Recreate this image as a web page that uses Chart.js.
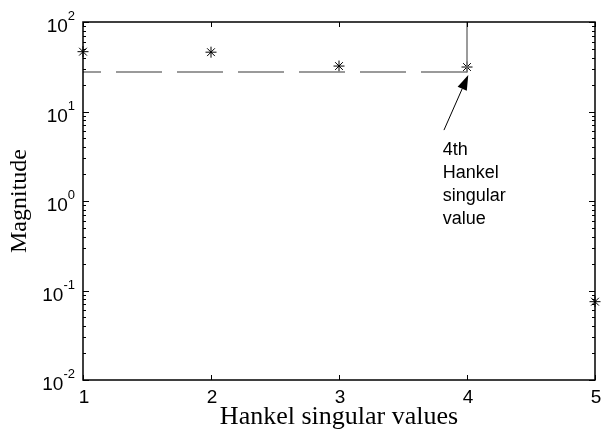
<!DOCTYPE html>
<html lang="en">

<head>
    <meta charset="UTF-8">
    <title>Hankel singular values</title>
    <script src="https://cdn.jsdelivr.net/npm/chart.js"></script>
    <style>
        html, body { margin: 0; padding: 0; background: #fff; }
        #wrap { width: 603px; height: 433px; }
    </style>
</head>

<body>
    <div id="wrap"><canvas id="hsvChart"></canvas></div>

    <script>
        // values
        const orders = [1, 2, 3, 4, 5];
        const hankelValues = [46.6, 46, 32.2, 31.4, 0.075];
        const boundLevel = 27.6;          // dashed level from order 1 to 4
        const boundTop = 100;             // vertical jump at order 4
        const yTickPowers = [2, 1, 0, -1, -2];
        const noteLines = ['4th', 'Hankel', 'singular', 'value'];
        const noteAnchor = { x: 3.81, y: 3.7 };   // first text line, in data units
        const arrowFrom = { x: 3.82, y: 6.2 };
        const arrowTo = { x: 4.01, y: 25.6 };

        const sansFont = '"Liberation Sans", Arial, sans-serif';

        // inward ticks, box, tick labels and the arrow note
        const matlabAxes = {
            id: 'matlabAxes',
            afterDraw(chart) {
                const ctx = chart.ctx;
                const a = chart.chartArea;
                const xs = chart.scales.x, ys = chart.scales.y;
                ctx.save();
                ctx.strokeStyle = '#000';
                ctx.lineWidth = 1.5;
                ctx.strokeRect(a.left, a.top, a.right - a.left, a.bottom - a.top);

                ctx.lineWidth = 1;
                ctx.beginPath();
                for (let p = -2; p <= 2; p++) {
                    for (let m = 1; m <= 9; m++) {
                        const v = m * Math.pow(10, p);
                        if (v > 100) break;
                        const py = Math.round(ys.getPixelForValue(v)) + 0.5;
                        const len = m === 1 ? 6 : 3;
                        ctx.moveTo(a.left, py); ctx.lineTo(a.left + len, py);
                        ctx.moveTo(a.right, py); ctx.lineTo(a.right - len, py);
                    }
                }
                orders.forEach(o => {
                    const px = Math.round(xs.getPixelForValue(o)) + 0.5;
                    ctx.moveTo(px, a.bottom); ctx.lineTo(px, a.bottom - 5);
                    ctx.moveTo(px, a.top); ctx.lineTo(px, a.top + 5);
                });
                ctx.stroke();

                ctx.fillStyle = '#000';
                // x tick labels
                ctx.font = '19px ' + sansFont;
                ctx.textAlign = 'center';
                ctx.textBaseline = 'alphabetic';
                orders.forEach(o => ctx.fillText(String(o), xs.getPixelForValue(o) + 1, a.bottom + 23));

                // y tick labels: 10 with superscript power
                yTickPowers.forEach(p => {
                    const py = ys.getPixelForValue(Math.pow(10, p));
                    const exp = String(p);
                    ctx.font = '13px ' + sansFont;
                    const ew = ctx.measureText(exp).width;
                    ctx.textAlign = 'right';
                    ctx.fillText(exp, a.left - 8, py - 2);
                    ctx.font = '19px ' + sansFont;
                    ctx.fillText('10', a.left - 8 - ew, py + 10);
                });

                // arrow
                const x1 = xs.getPixelForValue(arrowFrom.x), y1 = ys.getPixelForValue(arrowFrom.y);
                const x2 = xs.getPixelForValue(arrowTo.x), y2 = ys.getPixelForValue(arrowTo.y);
                const ang = Math.atan2(y2 - y1, x2 - x1);
                const hl = 15, hw = 5;
                const bx = x2 - hl * Math.cos(ang), by = y2 - hl * Math.sin(ang);
                ctx.beginPath();
                ctx.moveTo(x1, y1); ctx.lineTo(bx, by);
                ctx.stroke();
                ctx.beginPath();
                ctx.moveTo(x2, y2);
                ctx.lineTo(bx + hw * Math.sin(ang), by - hw * Math.cos(ang));
                ctx.lineTo(bx - hw * Math.sin(ang), by + hw * Math.cos(ang));
                ctx.closePath();
                ctx.fill();

                // note text
                ctx.font = '18px ' + sansFont;
                ctx.textAlign = 'left';
                ctx.textBaseline = 'middle';
                const tx = xs.getPixelForValue(noteAnchor.x);
                const ty = ys.getPixelForValue(noteAnchor.y);
                noteLines.forEach((t, i) => ctx.fillText(t, tx, ty + i * 23));
                ctx.restore();
            }
        };

        const ctx = document.getElementById('hsvChart').getContext('2d');
        new Chart(ctx, {
            type: 'scatter',
            data: {
                datasets: [{
                    label: 'bound',
                    type: 'line',
                    data: [{ x: orders[0], y: boundLevel }, { x: orders[3], y: boundLevel }],
                    borderColor: '#7a7a7a',
                    borderWidth: 1.5,
                    borderDash: [46, 15],
                    borderDashOffset: 28,
                    pointRadius: 0
                }, {
                    label: 'jump',
                    type: 'line',
                    data: [{ x: orders[3], y: boundLevel }, { x: orders[3], y: boundTop }],
                    borderColor: '#7a7a7a',
                    borderWidth: 1.5,
                    pointRadius: 0
                }, {
                    label: 'Hankel singular values',
                    data: orders.map((o, i) => ({ x: o, y: hankelValues[i] })),
                    pointStyle: 'star',
                    pointRadius: 5.5,
                    borderColor: '#000',
                    backgroundColor: '#000',
                    borderWidth: 1,
                    clip: false
                }]
            },
            options: {
                responsive: true,
                maintainAspectRatio: false,
                animation: false,
                layout: { padding: { top: 22, right: 8, left: 0, bottom: 0 } },
                plugins: { legend: { display: false }, tooltip: { enabled: false } },
                scales: {
                    x: {
                        type: 'linear',
                        min: 1, max: 5,
                        grid: { display: false, drawTicks: false },
                        border: { display: false },
                        ticks: { display: false },
                        title: {
                            display: true,
                            text: 'Hankel singular values',
                            color: '#000',
                            padding: 0,
                            font: { family: '"Liberation Serif", "Times New Roman", serif', size: 26 }
                        },
                        afterFit: s => { s.height = 53; }
                    },
                    y: {
                        type: 'logarithmic',
                        min: 0.01, max: 100,
                        grid: { display: false, drawTicks: false },
                        border: { display: false },
                        ticks: { display: false },
                        title: {
                            display: true,
                            text: 'Magnitude',
                            color: '#000',
                            padding: { top: 5, bottom: 0 },
                            font: { family: '"Liberation Serif", "Times New Roman", serif', size: 24 }
                        },
                        afterFit: s => { s.width = 83; }
                    }
                }
            },
            plugins: [matlabAxes]
        });
    </script>
</body>

</html>
